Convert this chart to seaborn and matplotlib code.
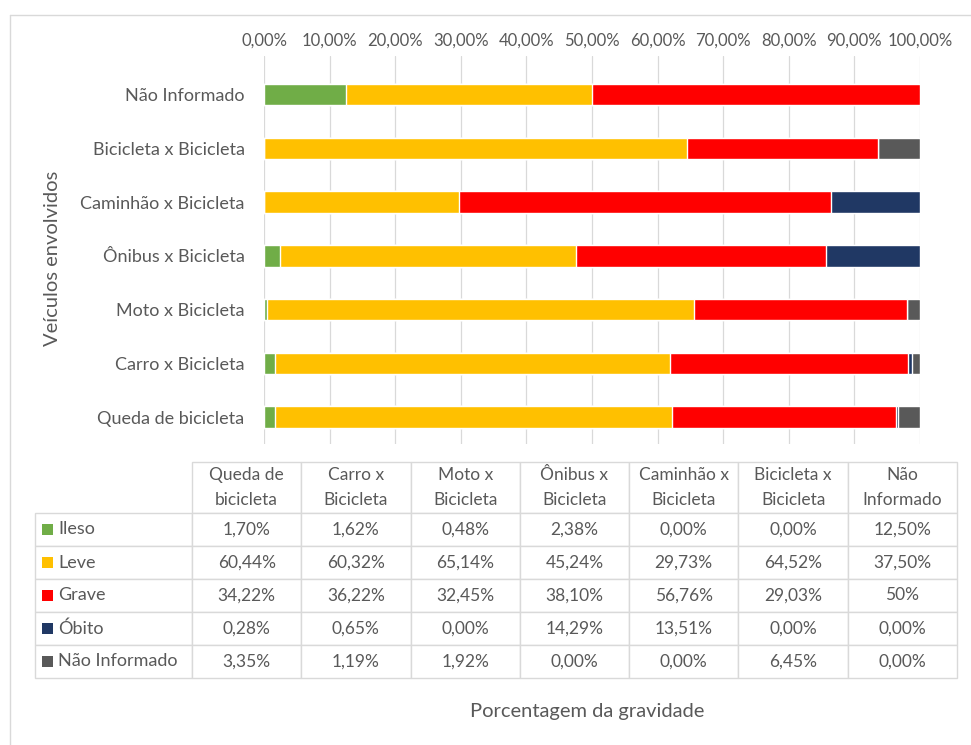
"""Stacked horizontal bars: severity share by vehicles involved, with a data table below."""

import matplotlib.pyplot as plt
import numpy as np
import pandas as pd
import seaborn as sns
from matplotlib.lines import Line2D
from matplotlib.patches import Rectangle
from matplotlib.ticker import FuncFormatter

# Data (percent of each vehicle combination)
veiculos = ['Queda de bicicleta', 'Carro x Bicicleta', 'Moto x Bicicleta', 'Ônibus x Bicicleta',
            'Caminhão x Bicicleta', 'Bicicleta x Bicicleta', 'Não Informado']
cabecalhos = ['Queda de\nbicicleta', 'Carro x\nBicicleta', 'Moto x\nBicicleta', 'Ônibus x\nBicicleta',
              'Caminhão x\nBicicleta', 'Bicicleta x\nBicicleta', 'Não\nInformado']
gravidade = ['Ileso', 'Leve', 'Grave', 'Óbito', 'Não Informado']
ileso = [1.70, 1.62, 0.48, 2.38, 0.00, 0.00, 12.50]
leve = [60.44, 60.32, 65.14, 45.24, 29.73, 64.52, 37.50]
grave = [34.22, 36.22, 32.45, 38.10, 56.76, 29.03, 50.00]
obito = [0.28, 0.65, 0.00, 14.29, 13.51, 0.00, 0.00]
nao_informado = [3.35, 1.19, 1.92, 0.00, 0.00, 6.45, 0.00]
# Excel showed this one cell without decimals
sem_decimais = {('Grave', 'Não Informado')}

cores = ['#70AD47', '#FFC000', '#FF0000', '#203864', '#595959']
cinza_texto = '#595959'
cinza_linha = '#D9D9D9'

sns.set_theme(style='white')
plt.rcParams['font.family'] = ['Lato', 'DejaVu Sans']

W, H = 971, 745


def fx(px):
    return px / W


def fy(py):
    return 1 - py / H


def pct(v):
    return f'{v:.2f}'.replace('.', ',') + '%'


df = pd.DataFrame({'Veículos': veiculos, 'Ileso': ileso, 'Leve': leve, 'Grave': grave,
                   'Óbito': obito, 'Não Informado': nao_informado})
acumulado = df[gravidade].cumsum(axis=1)
acumulado['Veículos'] = df['Veículos']
ordem = veiculos[::-1]

fig = plt.figure(figsize=(W / 100, H / 100), dpi=100)

# Outer chart frame (only left/top visible in the crop)
fig.add_artist(Line2D([fx(10), fx(10)], [fy(15), 0], transform=fig.transFigure, color=cinza_linha, lw=1))
fig.add_artist(Line2D([fx(10), 1], [fy(15), fy(15)], transform=fig.transFigure, color=cinza_linha, lw=1))

ax = fig.add_axes([fx(264), fy(444), fx(920) - fx(264), fy(56) - fy(444)])

# Stack by overlaying cumulative totals, widest first
for nivel, cor in reversed(list(zip(gravidade, cores))):
    sns.barplot(data=acumulado, x=nivel, y='Veículos', order=ordem, color=cor, saturation=1,
                width=0.4, orient='y', errorbar=None, ax=ax)

ax.set_xlim(0, 100)
ax.set_ylim(6.5, -0.72)
ax.set_xticks(np.arange(0, 101, 10))
ax.xaxis.set_major_formatter(FuncFormatter(lambda v, _: pct(v)))
ax.xaxis.tick_top()
ax.set_xlabel('')
ax.set_ylabel('')
ax.grid(axis='x', color=cinza_linha, lw=0.9)
ax.grid(axis='y', visible=False)
ax.set_axisbelow(True)
for s in ax.spines.values():
    s.set_visible(False)
ax.tick_params(axis='x', length=0, pad=5, labelsize=12, labelcolor=cinza_texto)
ax.tick_params(axis='y', length=0, pad=14, labelsize=13, labelcolor=cinza_texto)

fig.text(fx(53), fy(258), 'Veículos envolvidos', rotation=90, ha='center', va='center',
         fontsize=14.5, color=cinza_texto)
fig.text(fx(587), fy(712), 'Porcentagem da gravidade', ha='center', va='center',
         fontsize=14.5, color=cinza_texto)

# Data table
linhas = []
for nivel in gravidade:
    linha = ['']
    for v, veic in zip(df[nivel], veiculos):
        txt = f'{v:.0f}%' if (nivel, veic) in sem_decimais else pct(v)
        linha.append(txt)
    linhas.append(linha)

topo, cab_h, lin_h = 462, 51, 33
base = topo + cab_h + lin_h * len(gravidade)
tax = fig.add_axes([fx(35), fy(base), fx(957) - fx(35), fy(topo) - fy(base)])
tax.axis('off')
tabela = tax.table(cellText=linhas, colLabels=[''] + cabecalhos, colWidths=[157] + [109.3] * 7,
                   cellLoc='center', bbox=[0, 0, 1, 1])
tabela.auto_set_font_size(False)
tabela.set_fontsize(12.5)
for (r, c), cell in tabela.get_celld().items():
    cell.set_edgecolor(cinza_linha)
    cell.set_linewidth(1)
    cell.set_height(cab_h if r == 0 else lin_h)
    cell.get_text().set_color(cinza_texto)
    if r == 0:
        cell.get_text().set_linespacing(1.75)
tabela[0, 0].visible_edges = 'open'

# Legend keys in the first column
for i, (nivel, cor) in enumerate(zip(gravidade, cores)):
    yc = topo + cab_h + lin_h * (i + 0.5)
    fig.add_artist(Rectangle((fx(42), fy(yc + 5.5)), 11 / W, 11 / H, transform=fig.transFigure,
                             facecolor=cor, edgecolor='none'))
    fig.text(fx(58), fy(yc), nivel, ha='left', va='center', fontsize=13, color=cinza_texto)

fig.savefig('out.png', dpi=100, facecolor='white')
